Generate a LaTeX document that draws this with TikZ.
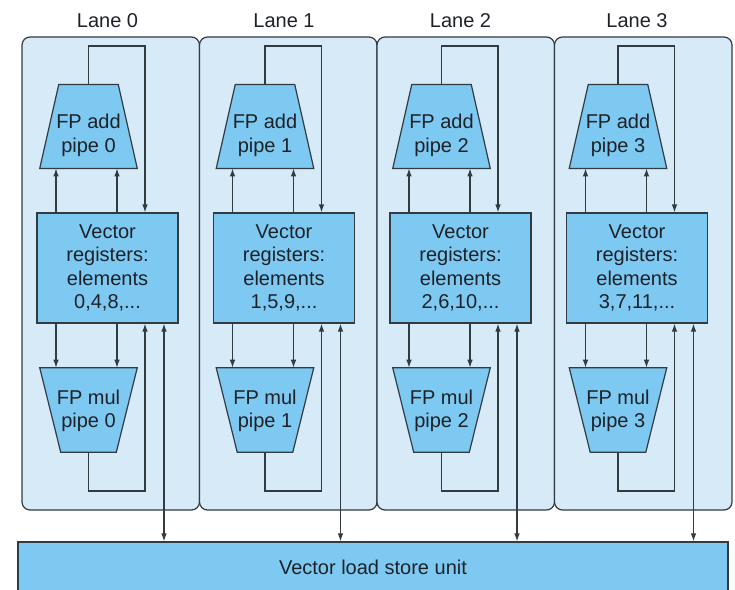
\documentclass[tikz,border=0pt]{standalone}
\usepackage{fontspec}
\setmainfont{Liberation Sans}
\usetikzlibrary{arrows.meta,calc}
\definecolor{lanefill}{RGB}{214,234,248}
\definecolor{unitfill}{RGB}{126,201,241}
\definecolor{edge}{RGB}{50,58,66}
\definecolor{ink}{RGB}{30,34,40}

% One lane: label, register file, add and multiply pipes, and their wiring.
% #1 = lane number, #2 = horizontal offset, #3 = element list
\newcommand\drawlane[3]{%
  \begin{scope}[shift={(#2,0)}]
    \node[anchor=base] (lane#1) at (107.5,27) {Lane #1};
    \node[regbox] (reg#1) at (107.5,268) {Vector\\registers:\\elements\\#3};
    % add pipe (narrow end up)
    \node[pipeframe] (add#1) at (88.5,126.5) {};
    \draw[pipeshape] (add#1.south west) -- (add#1.south east)
      -- ([xshift=-14.25pt]add#1.north east) -- ([xshift=14.25pt]add#1.north west) -- cycle;
    \node[pipetext] (addtxt#1) at (88.5,135.5) {FP add\\pipe #1};
    % multiply pipe (narrow end down)
    \node[pipeframe, minimum height=63pt] (mul#1) at (88.5,410) {};
    \draw[pipeshape] (mul#1.north west) -- (mul#1.north east)
      -- ([xshift=-15.75pt]mul#1.south east) -- ([xshift=15.75pt]mul#1.south west) -- cycle;
    \node[pipetext] (multxt#1) at (88.5,411) {FP mul\\pipe #1};
    % wire positions
    \coordinate (ta#1) at (56,0);
    \coordinate (tb#1) at (117,0);
    \coordinate (fb#1) at (145,46);
    \coordinate (mb#1) at (145,491);
    \coordinate (io#1) at (164,0);
    % operands to the pipes
    \draw[arr] (reg#1.north -| ta#1) -- (add#1.south -| ta#1);
    \draw[arr] (reg#1.north -| tb#1) -- (add#1.south -| tb#1);
    \draw[arr] (reg#1.south -| ta#1) -- (mul#1.north -| ta#1);
    \draw[arr] (reg#1.south -| tb#1) -- (mul#1.north -| tb#1);
    % results back to the registers
    \draw[arr] (add#1.north) |- (fb#1) -- (fb#1 |- reg#1.north);
    \draw[arr] (mul#1.south) |- (mb#1) -- (mb#1 |- reg#1.south);
    % link to the load/store unit
    \draw[biarr] (io#1 |- reg#1.south) -- (io#1 |- lsu.north);
  \end{scope}}

\begin{document}
\begin{tikzpicture}[x=0.75pt,y=-0.75pt,
  font=\fontsize{15pt}{17.6pt}\selectfont, text=ink,
  lanepanel/.style={draw=edge, line width=0.9pt, fill=lanefill, rounded corners=6pt},
  regbox/.style={draw=edge, line width=0.9pt, fill=unitfill, minimum width=105.75pt,
    minimum height=82.5pt, align=center, inner sep=0pt},
  pipeframe/.style={minimum width=72.75pt, minimum height=62.5pt, inner sep=0pt},
  pipeshape/.style={draw=edge, line width=0.9pt, fill=unitfill},
  pipetext/.style={align=center, inner sep=0pt},
  wire/.style={draw=edge, line width=0.9pt},
  arr/.style={wire, -{Latex[length=6pt,width=4.2pt]}},
  biarr/.style={wire, {Latex[length=6pt,width=4.2pt]}-{Latex[length=6pt,width=4.2pt]}},
]
\useasboundingbox (0,0) rectangle (735,589);

% lane panels
\foreach \i in {0,...,3} {
  \draw[lanepanel] (22+177.5*\i,37) rectangle (199.5+177.5*\i,510);
}

% shared load/store unit
\node[regbox, minimum width=532.5pt, minimum height=37.5pt] (lsu) at (373,567) {Vector load store unit};

\drawlane{0}{0}{0,4,8,...}
\drawlane{1}{176.5}{1,5,9,...}
\drawlane{2}{353}{2,6,10,...}
\drawlane{3}{529.5}{3,7,11,...}
\end{tikzpicture}
\end{document}
